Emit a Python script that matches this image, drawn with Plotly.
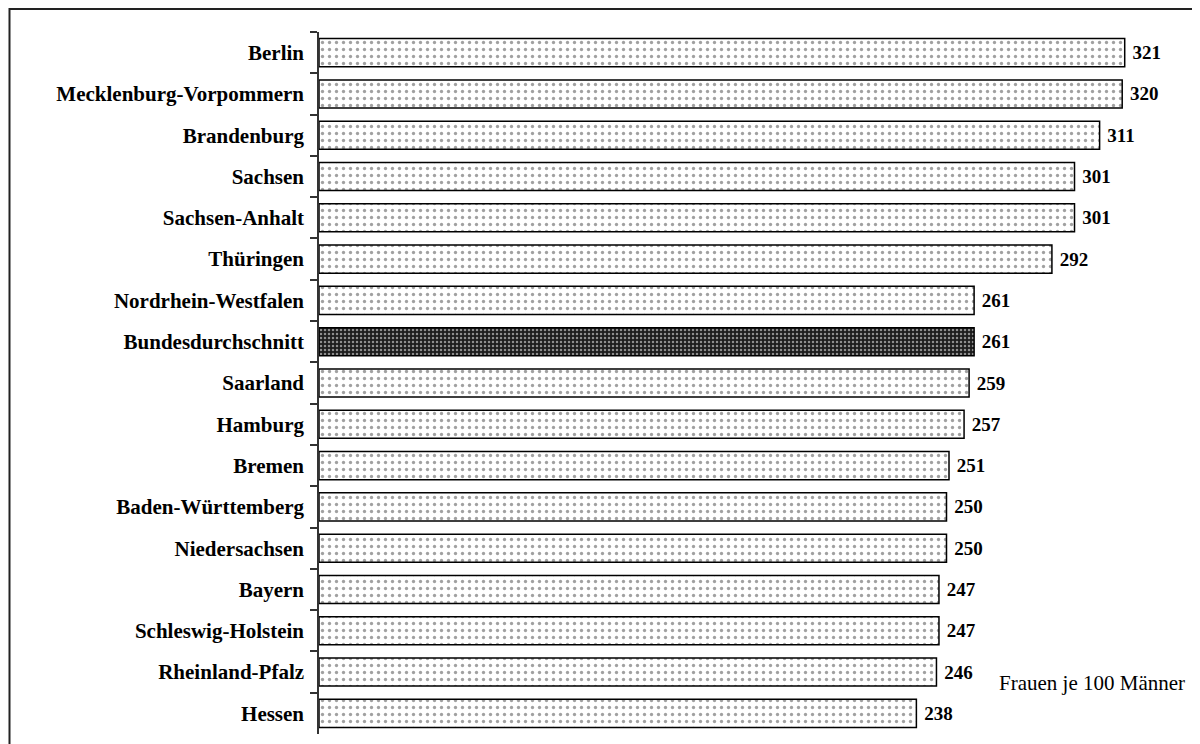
import plotly.graph_objects as go

states = ["Berlin", "Mecklenburg-Vorpommern", "Brandenburg", "Sachsen", "Sachsen-Anhalt",
          "Thüringen", "Nordrhein-Westfalen", "Bundesdurchschnitt", "Saarland", "Hamburg",
          "Bremen", "Baden-Württemberg", "Niedersachsen", "Bayern", "Schleswig-Holstein",
          "Rheinland-Pfalz", "Hessen"]
values = [321, 320, 311, 301, 301, 292, 261, 261, 259, 257, 251, 250, 250, 247, 247, 246, 238]
highlight = "Bundesdurchschnitt"
note = "Frauen je 100 Männer"

OFF = 8  # page body offset
W, H = 1200 - OFF, 744 - OFF
L, R, T, B = 319 - OFF, 0, 32 - OFF, 10
pw, ph = W - L - R, H - T - B

def px(xp):
    return (xp - OFF - L) / pw

def py(yp):
    return (H - B - (yp - OFF)) / ph

bg = ["#1c1c1c" if s == highlight else "white" for s in states]
fg = ["#b0b0b0" if s == highlight else "#000000" for s in states]
sol = [0.3 if s == highlight else 0.18 for s in states]
psize = [4 if s == highlight else 7 for s in states]

fig = go.Figure(go.Bar(
    x=values, y=states, orientation="h",
    marker=dict(
        color=bg,
        line=dict(color="black", width=1.5),
        pattern=dict(shape=".", fgcolor=fg, bgcolor=bg, size=psize, solidity=sol, fillmode="overlay"),
    ),
    text=[" " + str(v) for v in values], textposition="outside", cliponaxis=False,
    textfont=dict(family="Liberation Serif", size=19, color="black", weight="bold"),
    width=0.68,
))

fig.update_layout(
    width=W, height=H, margin=dict(l=L, r=R, t=T, b=B, autoexpand=False),
    plot_bgcolor="white", paper_bgcolor="white", showlegend=False,
    font=dict(family="Liberation Serif", color="black"),
    xaxis=dict(range=[0, pw / 2.51], visible=False),
    yaxis=dict(autorange="reversed", showline=True, linecolor="#333", linewidth=1.5,
               ticks="outside", tickson="boundaries", ticklen=7, tickcolor="#333", tickwidth=1.5,
               ticklabelstandoff=9, showgrid=False,
               tickfont=dict(family="Liberation Serif", size=21, color="black", weight="bold")),
    annotations=[dict(text=note, xref="paper", yref="paper",
                      x=px(997), y=py(683), xanchor="left", yanchor="middle",
                      showarrow=False, font=dict(family="Liberation Serif", size=21, color="black"))],
    shapes=[dict(type="rect", xref="paper", yref="paper",
                 x0=px(9.5), x1=px(1230), y0=py(770), y1=py(9),
                 line=dict(color="#222", width=2), fillcolor="rgba(0,0,0,0)", layer="above")],
)

fig.write_html("out.html")
